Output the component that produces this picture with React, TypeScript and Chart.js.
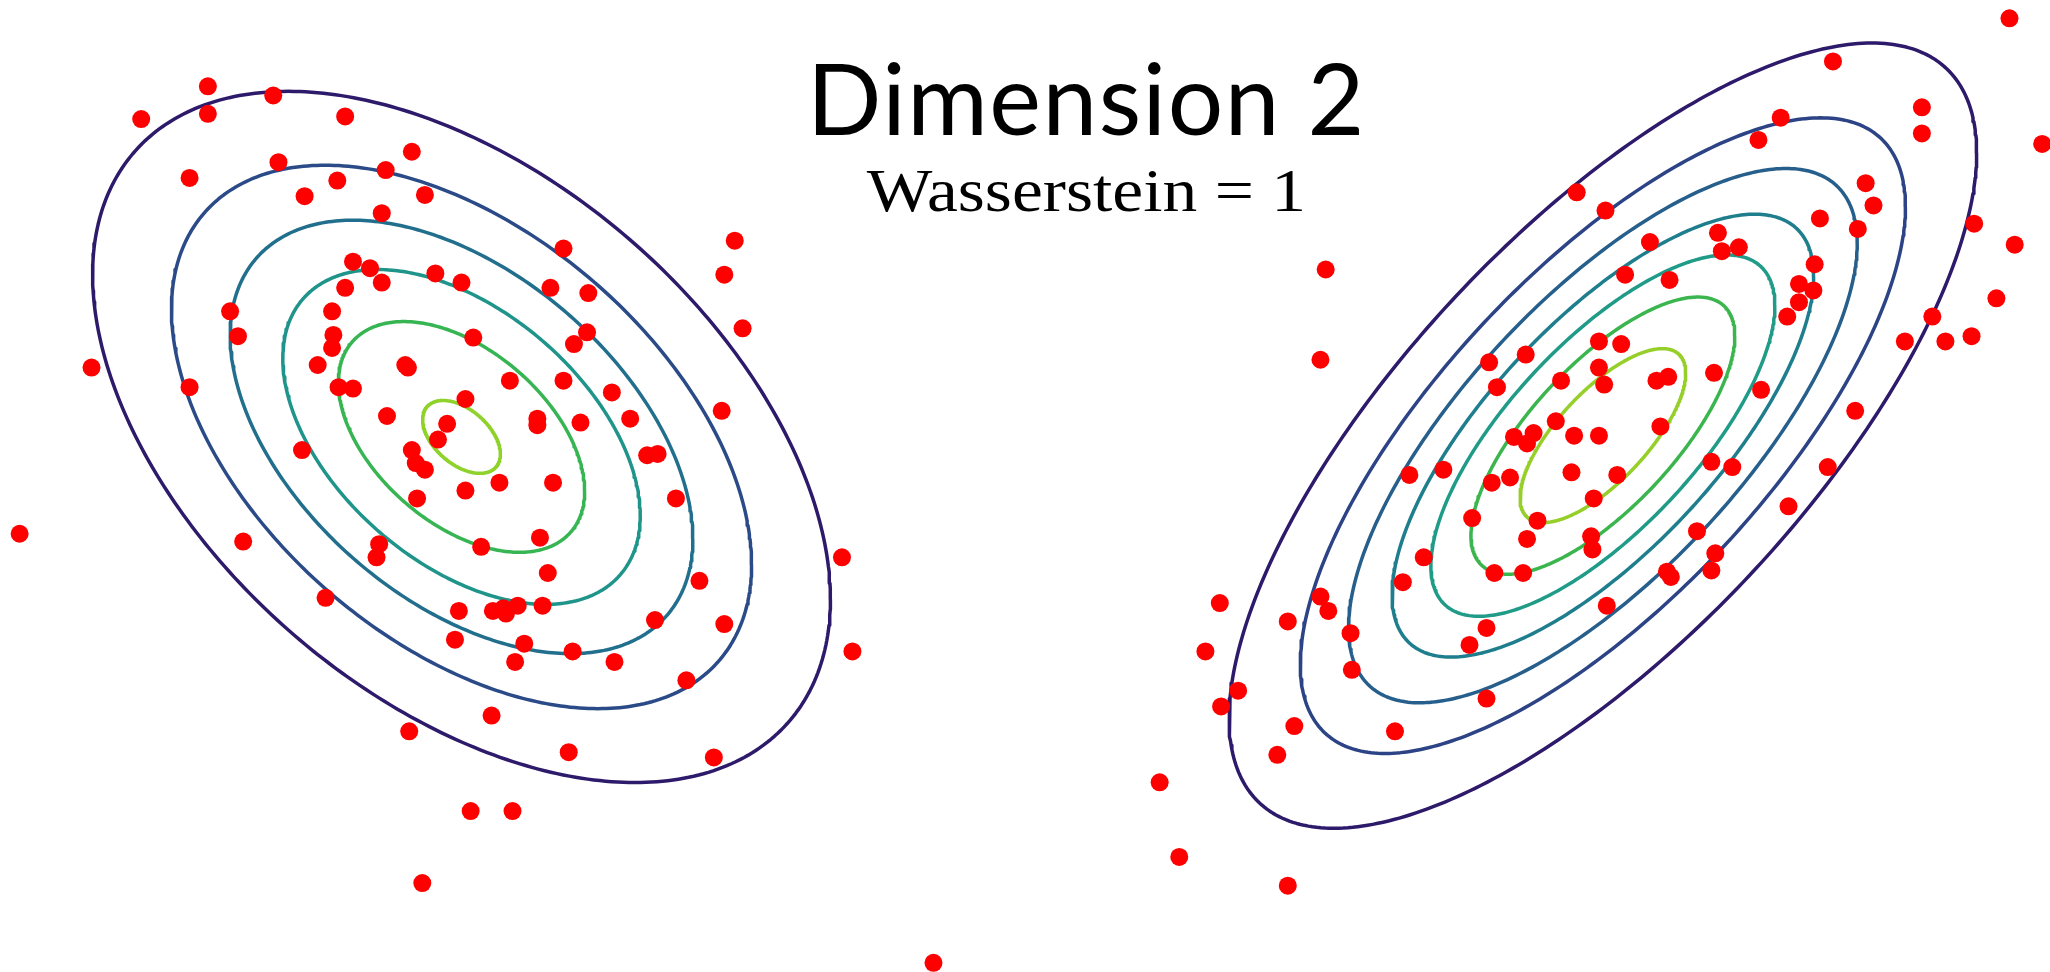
import { useEffect, useRef } from "react";
import { Chart, registerables } from "chart.js";

Chart.register(...registerables);

// Visible window in data units
const X_MIN = 0;
const X_MAX = 15.68;
const Y_MIN = 0;
const Y_MAX = 7.43;

const TITLE = "Dimension 2";
const SUBTITLE = "Wasserstein = 1";

// Samples drawn from the first distribution
const leftSamples: [number, number][] = [
  [1.08, 6.52], [1.59, 6.77], [2.09, 6.70], [1.59, 6.56], [2.64, 6.54], [1.45, 6.07],
  [2.13, 6.19], [2.58, 6.05], [2.33, 5.93], [2.95, 6.13], [3.15, 6.27], [3.25, 5.94],
  [2.92, 5.80], [4.31, 5.53], [5.62, 5.59], [5.54, 5.33], [5.68, 4.92], [2.70, 5.43],
  [2.83, 5.38], [2.92, 5.27], [2.64, 5.23], [3.33, 5.34], [3.53, 5.27], [4.21, 5.23],
  [4.50, 5.19], [1.76, 5.05], [1.82, 4.86], [2.54, 5.05], [2.55, 4.87], [2.54, 4.77],
  [3.10, 4.64], [3.12, 4.62], [2.43, 4.64], [2.59, 4.47], [2.70, 4.46], [3.62, 4.85],
  [4.49, 4.89], [4.39, 4.80], [0.70, 4.62], [1.45, 4.47], [3.90, 4.52], [4.31, 4.52],
  [4.68, 4.43], [2.96, 4.25], [3.42, 4.19], [3.35, 4.07], [4.11, 4.23], [4.11, 4.18],
  [4.44, 4.20], [4.82, 4.23], [5.52, 4.29], [4.95, 3.95], [5.03, 3.96], [3.15, 3.99],
  [3.18, 3.89], [3.25, 3.84], [3.56, 4.38], [2.31, 3.99], [3.82, 3.74], [4.23, 3.74],
  [3.56, 3.68], [3.19, 3.62], [5.17, 3.62], [0.15, 3.35], [1.86, 3.29], [4.13, 3.32],
  [3.68, 3.25], [2.90, 3.27], [2.88, 3.17], [4.19, 3.05], [6.44, 3.17], [5.35, 2.99],
  [2.49, 2.86], [3.51, 2.76], [3.77, 2.76], [3.85, 2.78], [3.87, 2.74], [3.96, 2.80],
  [4.15, 2.80], [5.01, 2.69], [5.54, 2.66], [3.48, 2.54], [4.01, 2.51], [4.38, 2.45],
  [3.94, 2.37], [4.70, 2.37], [6.52, 2.45], [5.25, 2.23], [3.76, 1.96], [3.13, 1.84],
  [4.35, 1.68], [5.46, 1.64], [3.60, 1.23], [3.92, 1.23], [3.23, 0.68],
];

// Samples drawn from the second distribution
const rightSamples: [number, number][] = [
  [10.14, 5.37], [10.10, 4.68],
  [12.06, 5.96], [12.28, 5.82], [12.62, 5.58], [13.14, 5.65], [13.17, 5.51], [13.30, 5.54],
  [12.43, 5.33], [12.77, 5.29], [12.23, 4.82], [12.40, 4.80], [12.23, 4.62], [12.27, 4.49],
  [11.39, 4.66], [11.67, 4.72], [11.45, 4.47], [11.94, 4.52], [12.67, 4.52], [12.76, 4.55],
  [13.11, 4.58], [11.90, 4.21], [11.58, 4.09], [11.73, 4.12], [11.68, 4.04], [12.04, 4.10],
  [12.23, 4.10], [12.70, 4.17],
  [15.37, 7.29], [14.02, 6.96], [14.70, 6.61], [14.70, 6.41], [15.62, 6.33], [13.62, 6.53],
  [13.45, 6.36], [14.27, 6.03], [14.33, 5.86], [13.92, 5.76], [14.21, 5.68], [15.10, 5.72],
  [15.41, 5.56], [13.88, 5.41], [13.76, 5.26], [13.87, 5.21], [13.76, 5.12], [13.67, 5.01],
  [15.27, 5.15], [14.78, 5.01], [14.57, 4.82], [14.88, 4.82], [15.08, 4.86], [13.47, 4.45],
  [14.19, 4.29], [13.98, 3.86], [13.68, 3.56],
  [12.02, 3.82], [12.37, 3.80], [11.55, 3.78], [11.41, 3.74], [12.19, 3.62], [13.09, 3.90],
  [13.25, 3.86], [11.26, 3.47], [11.76, 3.45], [11.68, 3.31], [12.17, 3.33], [12.18, 3.23],
  [12.98, 3.37], [13.12, 3.20], [13.09, 3.07], [12.75, 3.06], [12.78, 3.02], [11.43, 3.05],
  [11.65, 3.05], [12.29, 2.80], [11.37, 2.63], [11.24, 2.50], [11.37, 2.09],
  [10.78, 3.80], [11.04, 3.84], [10.89, 3.17], [10.73, 2.98], [10.10, 2.87], [10.16, 2.76],
  [9.33, 2.82], [9.85, 2.68], [10.33, 2.59], [9.22, 2.45], [10.34, 2.31], [9.47, 2.15],
  [9.34, 2.03], [9.90, 1.88], [10.67, 1.84], [9.77, 1.66], [8.87, 1.45], [9.02, 0.88],
  [9.85, 0.66], [7.14, 0.07],
];

// Gaussian density behind each cloud: mean, standard deviations, correlation
const leftMean = [3.53, 4.09];
const leftStd = [1.41, 1.32];
const leftCorr = -0.47;
const rightMean = [12.26, 4.1];
const rightStd = [1.41, 1.48];
const rightCorr = 0.72;

// Contour levels, as a fraction of the peak density (outermost first)
const leftLevels = [0.135, 0.29, 0.455, 0.625, 0.8, 0.978];
const rightLevels = [0.128, 0.26, 0.386, 0.52, 0.647, 0.774, 0.904];

// Viridis-style colours, outermost contour first
const leftColors = ["#2e1a6b", "#2b4b88", "#226f8d", "#1f948a", "#36b552", "#8fd22c"];
const rightColors = ["#2e1a6b", "#2c4386", "#265f8b", "#1f7e8d", "#1f9b88", "#3bb54e", "#96cf2a"];

const POINT_COLOR = "#ff0000";

// Trace the iso-density ellipse of a bivariate normal at the given level
function isoDensityCurve(mean: number[], std: number[], corr: number, level: number) {
  const r = Math.sqrt(-2 * Math.log(level));
  const s = Math.sqrt(1 - corr * corr);
  const steps = 360;
  const pts: { x: number; y: number }[] = [];
  for (let i = 0; i <= steps; i++) {
    const t = (2 * Math.PI * i) / steps;
    const c = Math.cos(t);
    const sn = Math.sin(t);
    pts.push({
      x: mean[0] + r * std[0] * c,
      y: mean[1] + r * std[1] * (corr * c + s * sn),
    });
  }
  return pts;
}

function contourDatasets(mean: number[], std: number[], corr: number, levels: number[], colors: string[]) {
  return levels.map((lv, i) => ({
    type: "scatter" as const,
    data: isoDensityCurve(mean, std, corr, lv),
    showLine: true,
    borderColor: colors[i],
    borderWidth: 3.5,
    borderJoinStyle: "round" as const,
    pointRadius: 0,
    fill: false,
    tension: 0,
    order: 2,
    clip: false as const,
  }));
}

const headingPlugin = {
  id: "heading",
  afterDraw(chart: any) {
    const { ctx, scales } = chart;
    const cx = scales.x.getPixelForValue(8.31);
    ctx.save();
    ctx.fillStyle = "#000";
    ctx.textAlign = "center";
    ctx.textBaseline = "alphabetic";
    ctx.font = "400 98px Lato";
    if ("letterSpacing" in ctx) ctx.letterSpacing = "1.5px";
    ctx.fillText(TITLE, cx, scales.y.getPixelForValue(6.4));
    if ("letterSpacing" in ctx) ctx.letterSpacing = "0px";
    // Subtitle set in a serif face, widened to the proportions of a TeX roman
    const sx = 1.14;
    ctx.font = "400 61px 'Liberation Serif'";
    ctx.translate(cx, scales.y.getPixelForValue(5.82));
    ctx.scale(sx, 1);
    ctx.fillText(SUBTITLE, 0, 0);
    ctx.restore();
  },
};

export default function App() {
  const canvasRef = useRef<HTMLCanvasElement | null>(null);

  useEffect(() => {
    const canvas = canvasRef.current;
    if (!canvas) return;
    const toPoints = (arr: [number, number][]) => arr.map(([x, y]) => ({ x, y }));
    const chart = new Chart(canvas, {
      type: "scatter",
      data: {
        datasets: [
          {
            data: toPoints(leftSamples),
            backgroundColor: POINT_COLOR,
            borderWidth: 0,
            pointRadius: 9,
            order: 0,
            clip: false,
          },
          {
            data: toPoints(rightSamples),
            backgroundColor: POINT_COLOR,
            borderWidth: 0,
            pointRadius: 9,
            order: 0,
            clip: false,
          },
          ...contourDatasets(leftMean, leftStd, leftCorr, leftLevels, leftColors),
          ...contourDatasets(rightMean, rightStd, rightCorr, rightLevels, rightColors),
        ] as any,
      },
      options: {
        animation: false,
        responsive: true,
        maintainAspectRatio: false,
        devicePixelRatio: 1,
        events: [],
        layout: { padding: 0, autoPadding: false },
        scales: {
          x: { type: "linear", min: X_MIN, max: X_MAX, display: false },
          y: { type: "linear", min: Y_MIN, max: Y_MAX, display: false },
        },
        plugins: {
          legend: { display: false },
          tooltip: { enabled: false },
          title: { display: false },
        },
      },
      plugins: [headingPlugin],
    });
    let alive = true;
    if ((document as any).fonts) {
      Promise.all([
        (document as any).fonts.load("98px Lato"),
        (document as any).fonts.load("61px 'Liberation Serif'"),
      ]).then(() => {
        if (alive) chart.draw();
      });
    }
    return () => {
      alive = false;
      chart.destroy();
    };
  }, []);

  return (
    <div
      style={{
        position: "fixed",
        left: 0,
        top: 0,
        width: "100vw",
        height: "100vh",
        background: "#ffffff",
      }}
    >
      <canvas ref={canvasRef} />
    </div>
  );
}
